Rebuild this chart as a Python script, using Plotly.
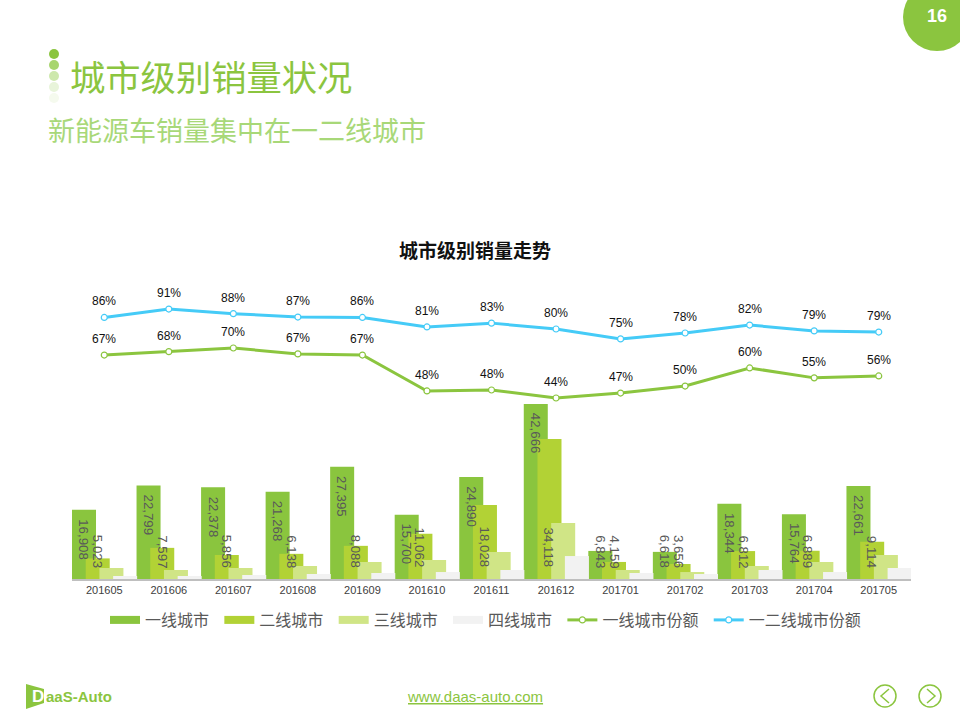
import plotly.graph_objects as go

months = ["201605", "201606", "201607", "201608", "201609", "201610", "201611",
          "201612", "201701", "201702", "201703", "201704", "201705"]
tier1 = [16908, 22799, 22378, 21268, 27395, 15700, 24890, 42666, 6843, 6618, 18344, 15764, 22661]
tier2 = [5023, 7597, 5856, 6138, 8088, 11062, 18028, 34118, 4159, 3656, 6812, 6889, 9114]
tier3 = [2680, 2200, 2680, 3170, 4150, 4630, 6590, 13660, 2200, 1700, 3170, 4150, 5850]
tier4 = [730, 730, 975, 1220, 1460, 1700, 2200, 5600, 1460, 1220, 2200, 1700, 2680]
share_t1 = [66.6, 68.4, 70.3, 67.2, 66.6, 47.7, 48.2, 44.0, 46.6, 50.3, 59.8, 54.6, 55.6]
share_t12 = [86.4, 90.8, 88.4, 86.6, 86.4, 81.4, 83.4, 80.3, 75.1, 78.2, 82.4, 79.3, 78.7]

GREEN = "#8BC53F"
CJK = "Noto Sans CJK SC"
LATIN = "Liberation Sans"
W, H = 960, 720
BAR_W = 0.372
BAR_STEP = 0.2124


def px(x, y):
    return x / W, 1 - y / H


fig = go.Figure()

bar_series = [("一线城市", tier1, "#8AC53E"), ("二线城市", tier2, "#B2D235"),
              ("三线城市", tier3, "#D0E586"), ("四线城市", tier4, "#F2F2F2")]
for i, (name, vals, color) in enumerate(bar_series):
    fig.add_bar(x=months, y=vals, name=name, marker_color=color, marker_line_width=0,
                width=BAR_W, offset=-0.5 + i * BAR_STEP, legendgroup=name, showlegend=False)
    # wide line stands in for the bar swatch, plotly's own is a small square
    # the trailing three-per-em space widens the legend entry to the reference pitch
    fig.add_scatter(x=[None], y=[None], mode="lines", name=name + "\u2004", legendgroup=name,
                    line=dict(color=color, width=8))

line_series = [("一线城市份额\u2004", share_t1, GREEN), ("一二线城市份额", share_t12, "#45CBF7")]
for name, vals, color in line_series:
    fig.add_scatter(x=months, y=vals, name=name, yaxis="y2", mode="lines+markers",
                    line=dict(color=color, width=3),
                    marker=dict(size=6, color="white", line=dict(color=color, width=1.2)))
    # numeric-looking category names get read as indexes by annotations, so pass the index
    for k, v in enumerate(vals):
        fig.add_annotation(x=k, y=v, xref="x", yref="y2", text=f"{v:.0f}%", showarrow=False,
                           yanchor="middle", yshift=16,
                           font=dict(family=LATIN, size=12, color="#111111"))

# rotated value labels on the two big series
for k in range(len(months)):
    for i, vals in enumerate([tier1, tier2]):
        at_top = i == 0 and vals[k] > 10000
        fig.add_annotation(x=k - 0.5 + i * BAR_STEP + BAR_W / 2, y=vals[k] if at_top else 0,
                           xref="x", yref="y", text=f"{vals[k]:,}", textangle=90, showarrow=False,
                           yanchor="top" if at_top else "bottom", yshift=-7 if at_top else 9,
                           font=dict(family=LATIN, size=13.3, color="#595959"))

# page furniture
dots = [(54, "#8BC53F"), (65, "#A8D56E"), (76, "#CDE8AC"), (87, "#E8F4DA"), (98, "#F5FAEE")]
for y, color in dots:
    x0, y0 = px(49, y - 5)
    x1, y1 = px(59, y + 5)
    fig.add_shape(type="circle", xref="paper", yref="paper", x0=x0, x1=x1, y0=y0, y1=y1,
                  fillcolor=color, line_width=0)

x0, y0 = px(903, -17)
x1, y1 = px(971, 51)
fig.add_shape(type="circle", xref="paper", yref="paper", x0=x0, x1=x1, y0=y0, y1=y1,
              fillcolor=GREEN, line_width=0)

for cx, pts in [(885, [(4, -7), (-4, 0), (4, 7)]), (930, [(-3, -7), (5, 0), (-3, 7)])]:
    x0, y0 = px(cx - 11, 685)
    x1, y1 = px(cx + 11, 707)
    fig.add_shape(type="circle", xref="paper", yref="paper", x0=x0, x1=x1, y0=y0, y1=y1,
                  line=dict(color=GREEN, width=1.5))
    path = ""
    for j, (dx, dy) in enumerate(pts):
        a, b = px(cx + dx, 696 + dy)
        path += f"{'M' if j == 0 else 'L'}{a},{b} "
    fig.add_shape(type="path", xref="paper", yref="paper", path=path, line=dict(color=GREEN, width=1.5))

logo = [(26, 684), (44, 689), (44, 703), (26, 709)]
path = ""
for j, (a, b) in enumerate(logo):
    a, b = px(a, b)
    path += f"{'M' if j == 0 else 'L'}{a},{b} "
fig.add_shape(type="path", xref="paper", yref="paper", path=path + "Z", fillcolor=GREEN, line_width=0)


def label(x, y, text, size, color, family=CJK, xanchor="left"):
    a, b = px(x, y)
    fig.add_annotation(xref="paper", yref="paper", x=a, y=b, text=text, showarrow=False,
                       xanchor=xanchor, yanchor="middle",
                       font=dict(family=family, size=size, color=color))


label(68, 76, "城市级别销量状况", 35.3, GREEN)
label(46, 129, "新能源车销量集中在一二线城市", 27, "#A8D878")
label(937, 16, "<b>16</b>", 18, "white", LATIN, "center")
label(475, 696, "<u>www.daas-auto.com</u>", 15, GREEN, LATIN, "center")
label(30, 696, "<b>D</b>", 17, "white", LATIN)
label(44, 696, "<b>aaS-Auto</b>", 15, GREEN, LATIN)

plot_top, plot_bottom = 280, 579
fig.update_layout(
    width=W, height=H, margin=dict(l=0, r=0, t=0, b=0),
    paper_bgcolor="white", plot_bgcolor="white",
    barmode="overlay",
    font=dict(family=CJK, color="#595959"),
    title=dict(text="<b>城市级别销量走势</b>", x=475 / W, xanchor="center", y=1 - 251 / H, yanchor="middle",
               font=dict(family=CJK, size=19, color="#111111")),
    legend=dict(orientation="h", x=105 / W, xanchor="left", y=1 - 620 / H, yanchor="middle",
                font=dict(family=CJK, size=16, color="#595959"), bgcolor="rgba(0,0,0,0)"),
    xaxis=dict(type="category", domain=[72 / W, 911 / W], range=[-0.5, 12.5], showgrid=False,
               showline=True, linecolor="#BFBFBF", linewidth=1.5, ticks="",
               tickfont=dict(family=LATIN, size=11, color="#404040")),
    yaxis=dict(domain=[1 - plot_bottom / H, 1 - plot_top / H], range=[0, 72927], visible=False),
    yaxis2=dict(overlaying="y", range=[-51.26, 106.1], visible=False),
)

fig.write_html("out.html", config={"displayModeBar": False},
               post_script="document.body.style.margin='0';")
